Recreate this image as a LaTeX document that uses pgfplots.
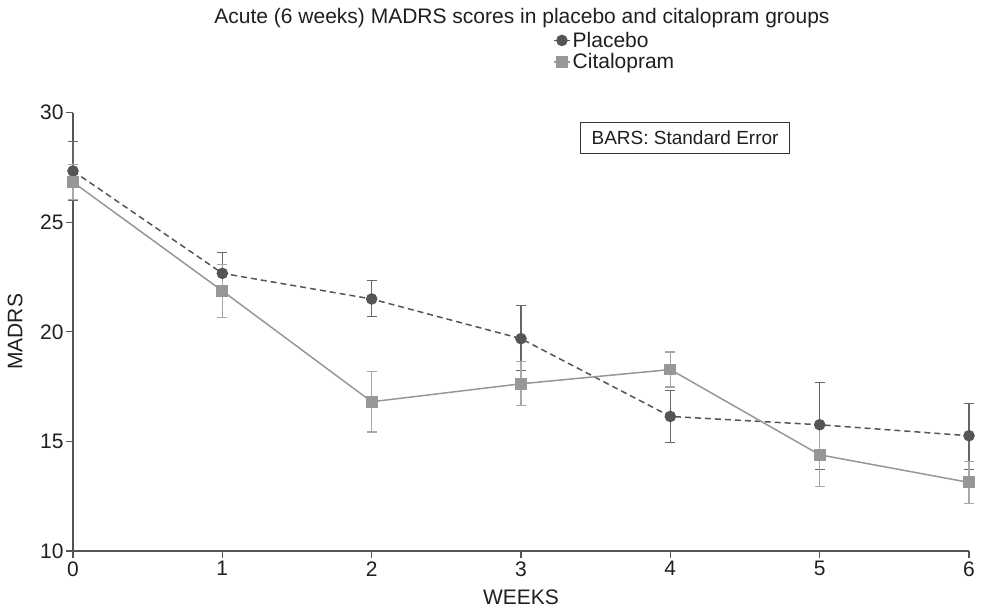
\documentclass[border=0pt]{standalone}
\usepackage{fontspec}
\setmainfont{Liberation Sans}
\usepackage{pgfplots}
\pgfplotsset{compat=1.18}
\definecolor{pdark}{HTML}{555555}
\definecolor{clight}{HTML}{979797}
\definecolor{axgray}{HTML}{555555}
\begin{document}
\begin{tikzpicture}
\begin{axis}[
  scale only axis, width=896pt, height=438.3pt,
  xmin=0, xmax=6, ymin=10, ymax=30,
  xtick={0,1,2,3,4,5,6}, ytick={10,15,20,25,30},
  axis lines=left, axis line style={-, axgray, line width=1.2pt},
  tick align=outside, major tick length=7pt, tick style={axgray, line width=1.2pt},
  clip=false,
  /pgf/number format/assume math mode=true,
  ticklabel style={font=\fontsize{21}{22}\selectfont, text=black!88},
  yticklabel style={xshift=1pt},
  xlabel={WEEKS}, ylabel={MADRS},
  label style={font=\fontsize{21}{22}\selectfont, text=black!88},
  xlabel style={at={(axis description cs:0.5,-0.1045)}, anchor=center},
  ylabel style={at={(axis description cs:-0.0647,0.5)}, anchor=center},
  legend style={at={(0.5357,1.189)}, anchor=north west, draw=none, fill=none,
    font=\fontsize{21}{22}\selectfont, text=black!88, row sep=1pt, inner sep=0pt},
  legend cell align=left,
  legend image code/.code={\draw[mark repeat=2,mark phase=2,#1] plot coordinates {(0pt,0pt)(8pt,0pt)(16pt,0pt)};},
]
\addplot[pdark, line width=1.5pt, dash pattern=on 6pt off 4pt,
  mark=*, mark size=5pt, mark options={solid, fill=pdark, draw=pdark},
  error bars/.cd, y dir=both, y explicit,
  error bar style={solid, line width=1.2pt, color=pdark!90},
  error mark options={rotate=90, mark size=5pt, line width=1.2pt, color=pdark!90}]
coordinates {
  (0,27.34) +- (0,1.34)
  (1,22.67) +- (0,0.95)
  (2,21.50) += (0,0.83) -= (0,0.80)
  (3,19.69) += (0,1.51) -= (0,1.47)
  (4,16.14) +- (0,1.19)
  (5,15.76) += (0,1.93) -= (0,2.05)
  (6,15.26) += (0,1.46) -= (0,1.55)
};
\addlegendentry{Placebo}
\addplot[clight, line width=1.5pt,
  mark=square*, mark size=5.2pt, mark options={solid, fill=clight, draw=clight},
  error bars/.cd, y dir=both, y explicit,
  error bar style={solid, line width=1.2pt, color=clight!85},
  error mark options={rotate=90, mark size=5pt, line width=1.2pt, color=clight!85}]
coordinates {
  (0,26.83) +- (0,0.80)
  (1,21.87) +- (0,1.22)
  (2,16.81) +- (0,1.38)
  (3,17.63) +- (0,1.00)
  (4,18.28) +- (0,0.80)
  (5,14.39) +- (0,1.44)
  (6,13.13) +- (0,0.96)
};
\addlegendentry{Citalopram}
\end{axis}
\node[draw=black!80, line width=1pt, font=\fontsize{19}{20}\selectfont, text=black!88, inner xsep=11pt, inner ysep=9pt, anchor=east] at (717pt,413pt) {BARS: Standard Error};
\node[font=\fontsize{21}{22}\selectfont, text=black!88] at (449pt,533pt) {Acute (6 weeks) MADRS scores in placebo and citalopram groups};
\pgfresetboundingbox
\path (-73pt,-60pt) rectangle (912pt,551pt);
\end{tikzpicture}
\end{document}
